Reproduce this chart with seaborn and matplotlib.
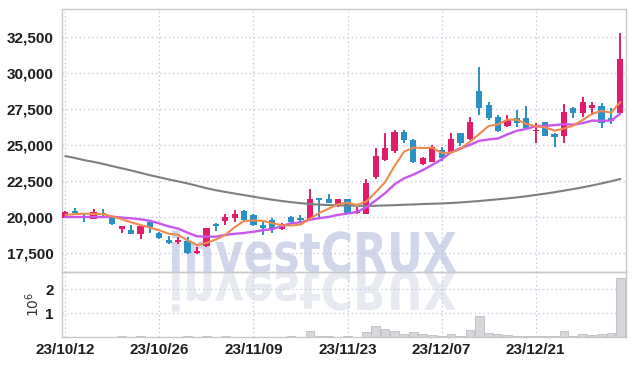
import numpy as np
import pandas as pd
import matplotlib
matplotlib.use("Agg")
import matplotlib.pyplot as plt
import seaborn as sns
from matplotlib.textpath import TextPath
from matplotlib.patches import PathPatch
from matplotlib.font_manager import FontProperties
from matplotlib.transforms import Affine2D

# ---------------- data ----------------
dates = ["23/10/12", "23/10/13", "23/10/16", "23/10/17", "23/10/18", "23/10/19", "23/10/20",
         "23/10/23", "23/10/24", "23/10/25", "23/10/26", "23/10/27", "23/10/30", "23/10/31",
         "23/11/01", "23/11/02", "23/11/03", "23/11/06", "23/11/07", "23/11/08", "23/11/09",
         "23/11/10", "23/11/13", "23/11/14", "23/11/15", "23/11/16", "23/11/17", "23/11/20",
         "23/11/21", "23/11/22", "23/11/23", "23/11/24", "23/11/27", "23/11/28", "23/11/29",
         "23/11/30", "23/12/01", "23/12/04", "23/12/05", "23/12/06", "23/12/07", "23/12/08",
         "23/12/11", "23/12/12", "23/12/13", "23/12/14", "23/12/15", "23/12/18", "23/12/19",
         "23/12/20", "23/12/21", "23/12/22", "23/12/26", "23/12/27", "23/12/28", "24/01/02",
         "24/01/03", "24/01/04", "24/01/05", "24/01/08"]

opens = [19950, 20400, 20100, 19880, 20300, 20070, 19190, 19100, 18800, 19630,
         18910, 18420, 18260, 18330, 17480, 17990, 19490, 19750, 19910, 20440,
         20140, 19440, 19790, 19150, 20000, 19930, 19790, 21300, 21250, 20900,
         21250, 20260, 20230, 22760, 23960, 24580, 25900, 25350, 23660, 23840,
         24650, 24530, 25800, 25400, 28770, 27780, 26920, 26320, 26850, 26850,
         26000, 26580, 25740, 25650, 27550, 27240, 27590, 27710, 26900, 27240]
highs = [20440, 20600, 20250, 20550, 20550, 20100, 19400, 19420, 19400, 19650,
         18950, 18650, 18580, 18630, 17900, 19240, 19560, 20200, 20490, 20500,
         20200, 19670, 19900, 19550, 20050, 20140, 21940, 21320, 21600, 21250,
         21250, 20700, 22620, 24770, 25810, 26040, 26040, 25400, 24150, 25000,
         24880, 25850, 25850, 26970, 30440, 28000, 27080, 27080, 27430, 27730,
         26500, 26600, 25800, 27850, 27660, 28310, 28000, 27940, 27550, 32760]
lows = [19910, 20200, 19650, 19850, 20100, 19450, 18900, 18800, 18470, 18890,
        18500, 18150, 18150, 17420, 17450, 17950, 19050, 19450, 19670, 19750,
        19350, 18750, 18900, 19100, 19500, 19560, 19700, 20020, 20950, 20700,
        20300, 20200, 20200, 22660, 23900, 24420, 25150, 23760, 23600, 23800,
        23900, 24450, 24950, 25350, 27080, 26740, 25880, 26250, 26270, 26050,
        25120, 25600, 24840, 25120, 26850, 26920, 27080, 26160, 26440, 27100]
closes = [20330, 20300, 19900, 20330, 20150, 19500, 19375, 18800, 19375, 19280,
          18520, 18220, 18400, 17480, 17640, 19240, 19380, 20000, 20190, 19790,
          19440, 19260, 19170, 19490, 19680, 19790, 21250, 21180, 20990, 21250,
          20300, 20440, 22380, 24240, 24770, 25900, 25350, 23840, 24080, 24880,
          24120, 25400, 25120, 26580, 27590, 26900, 25990, 26740, 26550, 26160,
          26040, 25650, 25580, 27270, 27240, 27960, 27780, 26550, 26690, 30950]
volume_m = [0.01, 0.01, 0.01, 0.01, 0.01, 0.01, 0.04, 0.01, 0.04, 0.01,
            0.01, 0.01, 0.01, 0.04, 0.01, 0.04, 0.01, 0.04, 0.02, 0.01,
            0.01, 0.01, 0.01, 0.01, 0.04, 0.02, 0.24, 0.03, 0.03, 0.02,
            0.05, 0.02, 0.21, 0.46, 0.33, 0.25, 0.125, 0.21, 0.125, 0.07,
            0.04, 0.125, 0.04, 0.29, 0.875, 0.17, 0.11, 0.07, 0.06, 0.06,
            0.06, 0.06, 0.06, 0.24, 0.03, 0.125, 0.07, 0.125, 0.17, 2.45]

# moving-average values before enough visible history exists
ma5_head = [20140, 20200, 20230, 20210]
ma10_head = [19990, 20000, 20000, 20000, 19990, 20020, 19960, 19910, 19840]
# long moving average (grey)
ma_long = [24230, 24100, 23950, 23830, 23690, 23530, 23380, 23230, 23070, 22900,
           22760, 22610, 22470, 22330, 22170, 22000, 21860, 21740, 21630, 21520,
           21410, 21300, 21200, 21110, 21030, 20960, 20900, 20860, 20830, 20810,
           20800, 20780, 20770, 20780, 20800, 20820, 20850, 20870, 20900, 20920,
           20940, 20970, 21010, 21060, 21110, 21170, 21230, 21290, 21360, 21440,
           21530, 21620, 21720, 21830, 21940, 22060, 22190, 22330, 22480, 22640]

tick_idx = [0, 10, 20, 30, 40, 50]
price_ticks = [17500, 20000, 22500, 25000, 27500, 30000, 32500]

# ---------------- styling ----------------
RED = "#e21b6b"
BLUE = "#2b91c4"
ORANGE = "#ef8a4e"
PURPLE = "#c957ee"
GREY = "#7f7f7f"
GRID = "#c6cbe0"
FRAME = "#c9c9c9"
TXT = "#1e1e1e"

sns.set_theme(style="white")
plt.rcParams["font.family"] = ["Liberation Sans Narrow", "Liberation Sans", "DejaVu Sans"]

n = len(closes)
idx = np.arange(n)
df = pd.DataFrame({"idx": idx, "open": opens, "high": highs, "low": lows,
                   "close": closes, "vol": volume_m, "ma_long": ma_long})
ma5 = df["close"].rolling(5).mean().to_numpy()
ma5[:len(ma5_head)] = ma5_head
ma10 = df["close"].rolling(10).mean().to_numpy()
ma10[:len(ma10_head)] = ma10_head
df["ma5"] = ma5
df["ma10"] = ma10

fig = plt.figure(figsize=(6.34, 3.66), dpi=100)
fig.patch.set_facecolor("white")

# background axes in pixel coordinates for the watermark
bg = fig.add_axes([0, 0, 1, 1], zorder=0)
bg.set_xlim(0, 634)
bg.set_ylim(366, 0)
bg.axis("off")

fp = FontProperties(family="DejaVu Sans", weight="bold")
tp = TextPath((0, 0), "investCRUX", size=1, prop=fp)
ext = tp.get_extents()
cap = TextPath((0, 0), "X", size=1, prop=fp).get_extents().height
sx = 284 / ext.width
sy = 40 / cap
x0, base = 172, 272
main_tr = Affine2D().translate(-ext.x0, 0).scale(sx, -sy).translate(x0, base)
refl_tr = Affine2D().translate(-ext.x0, 0).scale(sx, sy * 0.95).translate(x0, base)
bg.add_patch(PathPatch(main_tr.transform_path(tp), facecolor="#d1d6ea", edgecolor="none"))
bg.add_patch(PathPatch(refl_tr.transform_path(tp), facecolor="#e8eaf1", edgecolor="none"))

L, R = 62 / 634, 626 / 634
ax = fig.add_axes([L, (366 - 272) / 366, R - L, (272 - 9) / 366], zorder=1)
axv = fig.add_axes([L, (366 - 337) / 366, R - L, (337 - 272) / 366], zorder=1, sharex=ax)
for a in (ax, axv):
    a.patch.set_alpha(0)
    for s in a.spines.values():
        s.set_color(FRAME)
        s.set_linewidth(1.0)
    a.grid(True, color=GRID, linestyle=(0, (1.2, 2.2)), linewidth=0.9)
    a.set_axisbelow(True)

# candles
up = df["close"] >= df["open"]
colors = np.where(up, RED, BLUE)
body_lo = np.minimum(df["open"], df["close"])
body_h = np.maximum(np.abs(df["close"] - df["open"]), 60)
ax.vlines(df["idx"], df["low"], df["high"], colors=colors, linewidth=1.4, zorder=2)
ax.bar(df["idx"], body_h, bottom=body_lo, width=0.66, color=colors, zorder=3,
       linewidth=0)

# moving averages
sns.lineplot(data=df, x="idx", y="ma_long", ax=ax, color=GREY, linewidth=1.5, zorder=4)
sns.lineplot(data=df, x="idx", y="ma10", ax=ax, color=PURPLE, linewidth=1.7, zorder=5)
sns.lineplot(data=df, x="idx", y="ma5", ax=ax, color=ORANGE, linewidth=1.5, zorder=6)

ax.set_xlim(-0.35, 59.6)
ax.set_ylim(16180, 34444)
ax.set_yticks(price_ticks)
ax.set_yticklabels([f"{v:,}" for v in price_ticks])
ax.set_xlabel("")
ax.set_ylabel("")
ax.tick_params(axis="x", labelbottom=False, length=0)
ax.tick_params(axis="y", length=0, pad=6, labelsize=11, labelcolor=TXT)
for t in ax.get_yticklabels():
    t.set_fontweight("bold")

# volume
axv.bar(df["idx"], df["vol"], width=0.92, color="#d6d6db", edgecolor="#bdbdc4",
        linewidth=0.6, zorder=2)
axv.set_ylim(0, 2.71)
axv.set_yticks([1, 2])
axv.set_yticklabels(["1", "2"])
axv.set_xticks(tick_idx)
axv.set_xticklabels([dates[i] for i in tick_idx])
axv.tick_params(axis="both", length=0, labelsize=11, labelcolor=TXT)
axv.tick_params(axis="y", pad=6)
axv.tick_params(axis="x", pad=4)
for t in axv.get_xticklabels() + axv.get_yticklabels():
    t.set_fontweight("bold")
axv.set_ylabel(r"$10^6$", fontsize=10, color="#333333", labelpad=2)

fig.savefig("out.png", dpi=100, facecolor="white")
